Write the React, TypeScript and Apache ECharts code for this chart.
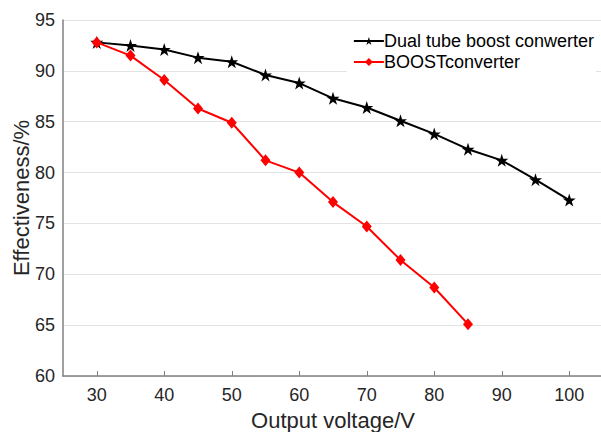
import React, { useEffect, useRef } from "react";
import * as echarts from "echarts";

const voltages = [30, 35, 40, 45, 50, 55, 60, 65, 70, 75, 80, 85, 90, 95, 100];
const dualTube = [92.8, 92.5, 92.1, 91.3, 90.9, 89.6, 88.8, 87.3, 86.4, 85.1, 83.8, 82.3, 81.2, 79.3, 77.3];
const boostVoltages = [30, 35, 40, 45, 50, 55, 60, 65, 70, 75, 80, 85];
const boost = [92.8, 91.5, 89.1, 86.3, 84.9, 81.2, 80.0, 77.1, 74.7, 71.4, 68.7, 65.1];
const xTicks = [30, 40, 50, 60, 70, 80, 90, 100];

const STAR =
  "path://M50,0 L61.8,35.4 L99,35.4 L69.1,57.3 L80.9,92.7 L50,70.8 L19.1,92.7 L30.9,57.3 L1,35.4 L38.2,35.4 Z";

export default function App() {
  const ref = useRef<HTMLDivElement>(null);
  useEffect(() => {
    if (!ref.current) return;
    const chart = echarts.init(ref.current, null, { renderer: "svg" });
    const font = "'Liberation Sans', Arial, sans-serif";
    chart.setOption({
      animation: false,
      textStyle: { fontFamily: font },
      grid: { left: 63, top: 20, width: 540, bottom: 56, containLabel: false, outerBoundsMode: "none" },
      legend: {
        right: 5,
        top: 29,
        orient: "vertical",
        itemWidth: 30,
        itemHeight: 10,
        itemGap: 3,
        backgroundColor: "#ffffff",
        padding: [3, 2, 5, 6],
        textStyle: { fontSize: 18, color: "#000", fontFamily: font, padding: [0, 0, 0, -5] },
        data: ["Dual tube boost conwerter", "BOOSTconverter"],
      },
      xAxis: {
        type: "value",
        min: 25,
        max: 105,
        interval: 5,
        name: "Output voltage/V",
        nameLocation: "middle",
        nameGap: 33,
        nameMoveOverlap: false,
        nameTextStyle: { fontSize: 22, color: "#262626", fontFamily: font },
        axisLine: { lineStyle: { color: "#808080", width: 1.5 } },
        axisTick: { inside: true, length: 5, customValues: xTicks, lineStyle: { color: "#808080" } },
        axisLabel: { customValues: xTicks, fontSize: 18, color: "#262626", margin: 10 },
        splitLine: { show: false },
      },
      yAxis: {
        type: "value",
        min: 60,
        max: 95,
        interval: 5,
        name: "Effectiveness/%",
        nameLocation: "middle",
        nameGap: 31,
        nameMoveOverlap: false,
        nameTextStyle: { fontSize: 22, color: "#262626", fontFamily: font },
        axisLine: { show: true, lineStyle: { color: "#808080", width: 1.5 } },
        axisTick: { show: false },
        axisLabel: { fontSize: 18, color: "#262626", margin: 8 },
        splitLine: { show: true, lineStyle: { color: "#e3e3e3", width: 1 } },
      },
      series: [
        {
          name: "Dual tube boost conwerter",
          type: "line",
          data: voltages.map((v, i) => [v, dualTube[i]]),
          symbol: STAR,
          symbolSize: 13,
          itemStyle: { color: "#000000" },
          lineStyle: { color: "#000000", width: 2 },
          z: 3,
        },
        {
          name: "BOOSTconverter",
          type: "line",
          data: boostVoltages.map((v, i) => [v, boost[i]]),
          symbol: "diamond",
          symbolSize: [10, 12],
          itemStyle: { color: "#ff0000" },
          lineStyle: { color: "#ff0000", width: 2 },
          z: 4,
        },
      ],
    });
    return () => chart.dispose();
  }, []);
  return <div ref={ref} style={{ width: 601, height: 432, position: "absolute", left: 0, top: 0 }} />;
}
